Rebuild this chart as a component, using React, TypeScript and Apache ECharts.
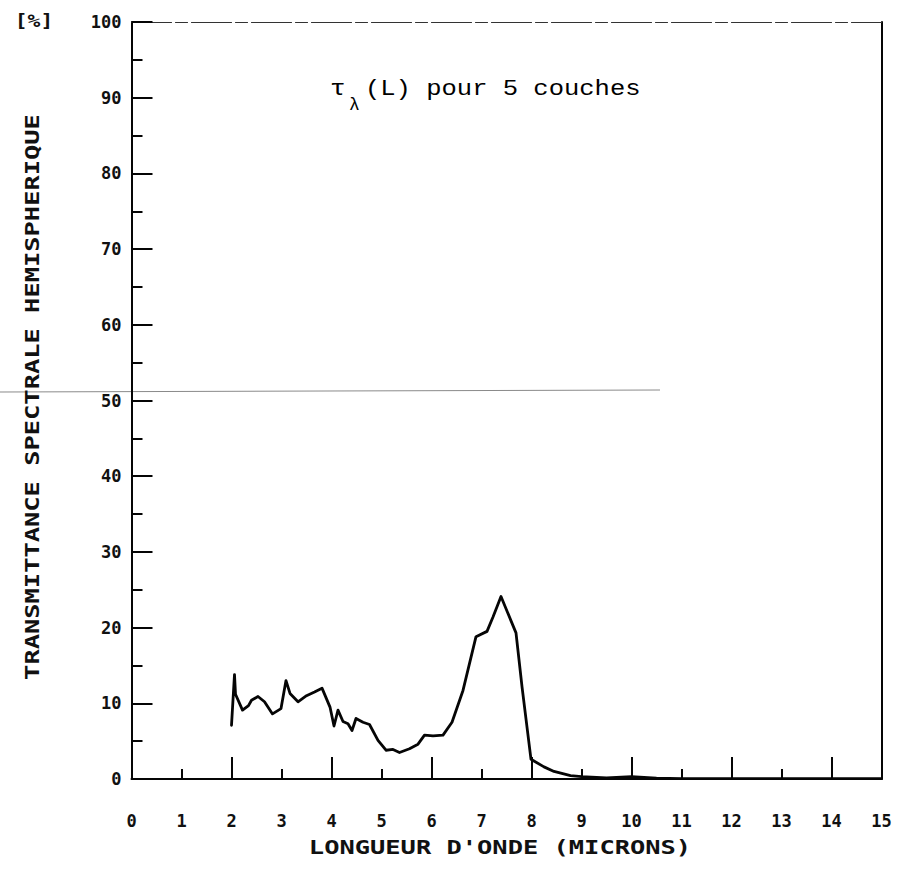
import React, { useEffect, useRef } from "react";
import * as echarts from "echarts";

// Wavelength (microns) and spectral hemispherical transmittance (%)
const wavelengths = [
  2.0, 2.06, 2.08, 2.22, 2.34, 2.4, 2.53, 2.66, 2.82, 2.99, 3.09, 3.17, 3.33, 3.5, 3.66, 3.81,
  3.97, 4.05, 4.13, 4.23, 4.33, 4.41, 4.49, 4.63, 4.76, 4.93, 5.09, 5.23, 5.36, 5.56, 5.73,
  5.86, 6.03, 6.23, 6.41, 6.63, 6.89, 7.11, 7.23, 7.39, 7.69, 7.81, 7.99, 8.25, 8.45, 8.78,
  9.0, 9.5, 10.0, 10.5, 11.0, 12.0, 13.0, 14.0, 15.0,
];
const transmittance = [
  7.1, 13.8, 11.2, 9.1, 9.7, 10.4, 10.9, 10.2, 8.6, 9.3, 13.0, 11.3, 10.2, 11.0, 11.5, 12.0,
  9.5, 7.0, 9.1, 7.6, 7.3, 6.4, 8.0, 7.5, 7.2, 5.1, 3.8, 3.9, 3.5, 4.0, 4.6,
  5.8, 5.7, 5.8, 7.5, 11.7, 18.8, 19.5, 21.4, 24.1, 19.3, 12.2, 2.6, 1.6, 1.0, 0.45,
  0.3, 0.15, 0.3, 0.1, 0.05, 0.05, 0.05, 0.05, 0.05,
];

const titleMain = "(L) pour 5 couches";
const titleTau = "τ";
const titleLambda = "λ";
const xAxisName = "LONGUEUR D'ONDE (MICRONS)";
const yAxisName = "TRANSMITTANCE SPECTRALE HEMISPHERIQUE";
const yUnit = "[%]";

const MONO = "'DejaVu Sans Mono', monospace";
const TYPE = "'Liberation Mono', 'Courier New', monospace";

export default function App() {
  const ref = useRef<HTMLDivElement>(null);

  useEffect(() => {
    if (!ref.current) return;
    const chart = echarts.init(ref.current, undefined, { renderer: "svg" });
    const data = wavelengths.map((w, i) => [w, transmittance[i]]);
    const black = "#050505";

    chart.setOption({
      animation: false,
      backgroundColor: "#ffffff",
      grid: { left: 131.5, top: 22, width: 750, height: 757, show: false },
      xAxis: [
        {
          type: "value",
          min: 0,
          max: 15,
          interval: 1,
          position: "bottom",
          axisLine: { show: true, onZero: false, lineStyle: { color: black, width: 2 } },
          axisTick: { show: true, inside: true, length: 10, lineStyle: { color: black, width: 2 } },
          axisLabel: { margin: 33, fontFamily: MONO, fontSize: 17, fontWeight: "bold", color: "#111" },
          splitLine: { show: false },
        },
        {
          type: "value",
          min: 0,
          max: 15,
          interval: 2,
          position: "bottom",
          axisLine: { show: false },
          axisTick: { show: true, inside: true, length: 22, lineStyle: { color: black, width: 2 } },
          axisLabel: { show: false },
          splitLine: { show: false },
        },
        {
          type: "value",
          min: 0,
          max: 15,
          position: "top",
          axisLine: { show: true, onZero: false, lineStyle: { color: "#333", width: 1.2, type: [40, 4, 12, 4] } },
          axisTick: { show: false },
          axisLabel: { show: false },
          splitLine: { show: false },
        },
      ],
      yAxis: [
        {
          type: "value",
          min: 0,
          max: 100,
          interval: 10,
          position: "left",
          axisLine: { show: true, onZero: false, lineStyle: { color: black, width: 2 } },
          axisTick: { show: true, inside: true, length: 21, lineStyle: { color: black, width: 2 } },
          minorTick: { show: true, splitNumber: 2, length: 11, lineStyle: { color: black, width: 2 } },
          axisLabel: { margin: 10, fontFamily: MONO, fontSize: 17, fontWeight: "bold", color: "#111" },
          splitLine: { show: false },
          minorSplitLine: { show: false },
        },
        {
          type: "value",
          min: 0,
          max: 100,
          position: "right",
          axisLine: { show: true, onZero: false, lineStyle: { color: black, width: 2 } },
          axisTick: { show: false },
          axisLabel: { show: false },
          splitLine: { show: false },
        },
      ],
      series: [
        {
          type: "line",
          xAxisIndex: 0,
          yAxisIndex: 0,
          data,
          showSymbol: false,
          symbol: "none",
          lineStyle: { color: black, width: 2.8, join: "round", cap: "round" },
        },
      ],
      graphic: [
        {
          type: "line",
          silent: true,
          shape: { x1: 0, y1: 392, x2: 660, y2: 390 },
          style: { stroke: "#8a8a8a", lineWidth: 1 },
          z: -1,
        },
        {
          type: "text",
          x: 32,
          y: 397,
          rotation: Math.PI / 2,
          scaleX: 1.27,
          style: {
            text: yAxisName,
            fontFamily: MONO,
            fontSize: 20,
            fontWeight: "bold",
            fill: "#111",
            align: "center",
            verticalAlign: "middle",
          },
        },
        {
          type: "text",
          x: 500,
          y: 847,
          scaleX: 1.27,
          style: {
            text: xAxisName,
            fontFamily: MONO,
            fontSize: 20,
            fontWeight: "bold",
            fill: "#111",
            align: "center",
            verticalAlign: "middle",
          },
        },
        {
          type: "text",
          x: 34,
          y: 21,
          scaleX: 1.25,
          style: {
            text: yUnit,
            fontFamily: MONO,
            fontSize: 17,
            fontWeight: "bold",
            fill: "#111",
            align: "center",
            verticalAlign: "middle",
          },
        },
        {
          type: "text",
          x: 330,
          y: 89,
          scaleX: 1.2,
          style: {
            text: titleTau,
            fontFamily: TYPE,
            fontSize: 22,
            fill: "#000",
            align: "left",
            verticalAlign: "middle",
          },
        },
        {
          type: "text",
          x: 349,
          y: 105,
          style: {
            text: titleLambda,
            fontFamily: TYPE,
            fontSize: 18,
            fill: "#000",
            align: "left",
            verticalAlign: "middle",
          },
        },
        {
          type: "text",
          x: 365,
          y: 89,
          scaleX: 1.16,
          style: {
            text: titleMain,
            fontFamily: TYPE,
            fontSize: 22,
            fill: "#000",
            align: "left",
            verticalAlign: "middle",
          },
        },
      ],
    });

    return () => chart.dispose();
  }, []);

  return (
    <div
      ref={ref}
      style={{ position: "fixed", left: 0, top: 0, width: 905, height: 875, background: "#fff" }}
    />
  );
}
